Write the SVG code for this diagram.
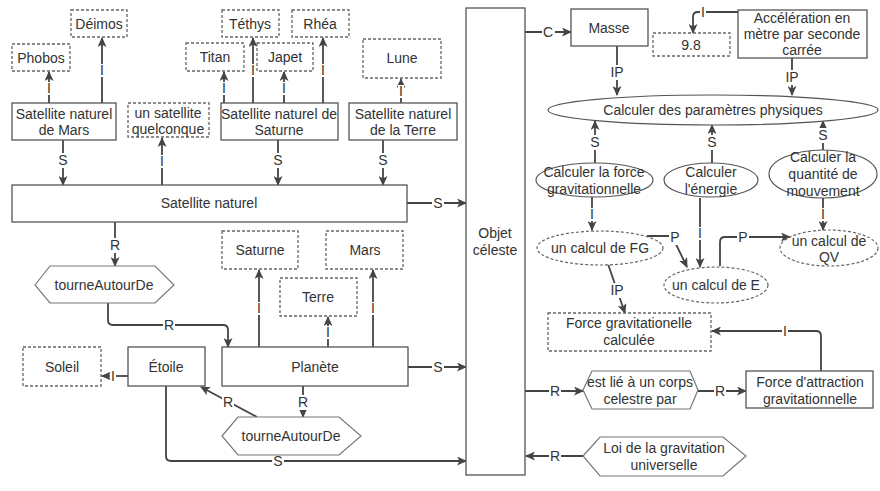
<svg xmlns="http://www.w3.org/2000/svg" width="880" height="491" viewBox="0 0 880 491">
<defs>
<style>
text{font-family:"Liberation Sans",Arial,sans-serif;font-size:14px;fill:#333;text-anchor:middle;dominant-baseline:central}
.box{fill:#fff;stroke:#555;stroke-width:1.3}
.dbox{fill:#fff;stroke:#666;stroke-width:1.3;stroke-dasharray:3,2}
.hex{fill:#fff;stroke:#777;stroke-width:1.2}
.ell{fill:#fff;stroke:#555;stroke-width:1.2}
.dell{fill:#fff;stroke:#666;stroke-width:1.2;stroke-dasharray:3,2}
.c{fill:none;stroke:#444;stroke-width:1.8;marker-end:url(#ah)}
.lb{fill:#fff;stroke:none}
</style>
<marker id="ah" markerUnits="userSpaceOnUse" markerWidth="10" markerHeight="9" refX="9" refY="4.5" orient="auto">
<path d="M0,0 L10,4.5 L0,9 L2.5,4.5 z" fill="#444"/>
</marker>
</defs>
<rect width="880" height="491" fill="#fff"/>

<g id="connectors">
<path class="c" d="M49 103 V72"/><rect class="lb" x="46" y="82" width="6" height="13"/><text x="49" y="88">I</text>
<path class="c" d="M102 103 V38"/><rect class="lb" x="99" y="64" width="6" height="13"/><text x="102" y="70">I</text>
<path class="c" d="M162 185 V138"/><rect class="lb" x="159" y="155" width="6" height="13"/><text x="162" y="161">I</text>
<path class="c" d="M224 103 V72"/><rect class="lb" x="221" y="82" width="6" height="13"/><text x="224" y="88">I</text>
<path class="c" d="M253 103 V38"/><rect class="lb" x="250" y="64" width="6" height="13"/><text x="253" y="70">I</text>
<path class="c" d="M284 103 V72"/><rect class="lb" x="281" y="82" width="6" height="13"/><text x="284" y="88">I</text>
<path class="c" d="M323 103 V38"/><rect class="lb" x="320" y="64" width="6" height="13"/><text x="323" y="70">I</text>
<path class="c" d="M401 103 V79"/><rect class="lb" x="398" y="85" width="6" height="13"/><text x="401" y="91">I</text>
<path class="c" d="M63 140 V185"/><rect class="lb" x="57" y="153" width="12" height="15"/><text x="63" y="160">S</text>
<path class="c" d="M278 140 V185"/><rect class="lb" x="272" y="153" width="12" height="15"/><text x="278" y="160">S</text>
<path class="c" d="M383 140 V185"/><rect class="lb" x="377" y="153" width="12" height="15"/><text x="383" y="160">S</text>
<path class="c" d="M407 203 H466"/><rect class="lb" x="432" y="196" width="12" height="15"/><text x="438" y="203">S</text>
<path class="c" d="M115 222 V266"/><rect class="lb" x="109" y="238" width="12" height="15"/><text x="115" y="245">R</text>
<path class="c" d="M108 303 V320 Q108 325 113 325 H223 Q228 325 228 330 V347"/><rect class="lb" x="163" y="318" width="12" height="15"/><text x="169" y="325">R</text>
<path class="c" d="M259 347 V270"/><rect class="lb" x="256" y="302" width="6" height="13"/><text x="259" y="308">I</text>
<path class="c" d="M328 347 V317"/><rect class="lb" x="325" y="326" width="6" height="13"/><text x="328" y="332">I</text>
<path class="c" d="M373 347 V270"/><rect class="lb" x="370" y="302" width="6" height="13"/><text x="373" y="308">I</text>
<path class="c" d="M408 367 H466"/><rect class="lb" x="432" y="360" width="12" height="15"/><text x="438" y="367">S</text>
<path class="c" d="M128 376 H102"/><rect class="lb" x="110" y="369" width="6" height="14"/><text x="113" y="376">I</text>
<path class="c" d="M303 386 V417"/><rect class="lb" x="297" y="395" width="12" height="15"/><text x="303" y="402">R</text>
<path class="c" d="M257 417 L201 387"/><rect class="lb" x="222" y="395" width="12" height="15"/><text x="228" y="402">R</text>
<path class="c" d="M166 386 V456 Q166 461 171 461 H466"/><rect class="lb" x="272" y="454" width="12" height="15"/><text x="278" y="461">S</text>
<path class="c" d="M525 32 H571"/><rect class="lb" x="542" y="25" width="13" height="15"/><text x="548" y="32">C</text>
<path class="c" d="M738 12 H698 Q693 12 693 17 V33"/><rect class="lb" x="700" y="5" width="6" height="14"/><text x="703" y="12">I</text>
<path class="c" d="M617 46 V95"/><rect class="lb" x="609" y="65" width="16" height="15"/><text x="617" y="72">IP</text>
<path class="c" d="M792 58 V95"/><rect class="lb" x="784" y="70" width="16" height="15"/><text x="792" y="77">IP</text>
<path class="c" d="M595 163 V121"/><rect class="lb" x="589" y="135" width="12" height="15"/><text x="595" y="142">S</text>
<path class="c" d="M712 163 V125"/><rect class="lb" x="706" y="135" width="12" height="15"/><text x="712" y="142">S</text>
<path class="c" d="M823 150 V121"/><rect class="lb" x="817" y="128" width="12" height="15"/><text x="823" y="135">S</text>
<path class="c" d="M592 197 V230"/><rect class="lb" x="589" y="208" width="6" height="13"/><text x="592" y="214">I</text>
<path class="c" d="M700 198 V267"/><rect class="lb" x="697" y="227" width="6" height="13"/><text x="700" y="233">I</text>
<path class="c" d="M823 198 V230"/><rect class="lb" x="820" y="208" width="6" height="13"/><text x="823" y="214">I</text>
<path class="c" d="M647 236 H672 L687 267"/><rect class="lb" x="669" y="230" width="12" height="15"/><text x="675" y="237">P</text>
<path class="c" d="M720 266 V242 Q720 237 725 237 H790"/><rect class="lb" x="737" y="230" width="12" height="15"/><text x="743" y="237">P</text>
<path class="c" d="M608 264 L625 313"/><rect class="lb" x="609" y="283" width="16" height="15"/><text x="617" y="290">IP</text>
<path class="c" d="M821 371 V336 Q821 331 816 331 H712"/><rect class="lb" x="782" y="324" width="6" height="14"/><text x="785" y="331">I</text>
<path class="c" d="M525 391 H583"/><rect class="lb" x="549" y="384" width="12" height="15"/><text x="555" y="391">R</text>
<path class="c" d="M698 391 H746"/><rect class="lb" x="714" y="384" width="12" height="15"/><text x="720" y="391">R</text>
<path class="c" d="M583 456 H526"/><rect class="lb" x="549" y="449" width="12" height="15"/><text x="555" y="456">R</text>
</g>

<g id="objet-celeste"><rect class="box" x="466" y="8" width="59" height="467"/><text x="495" y="233">Objet</text><text x="495" y="250">céleste</text></g>
<g id="masse"><rect class="box" x="571" y="9" width="77" height="37"/><text x="609" y="28">Masse</text></g>
<g id="v98"><rect class="dbox" x="653" y="33" width="77" height="23"/><text x="691" y="45">9.8</text></g>
<g id="acceleration"><rect class="box" x="738" y="10" width="129" height="48"/><text x="802" y="18">Accélération en</text><text x="802" y="34">mètre par seconde</text><text x="802" y="50">carrée</text></g>
<g id="calc-params"><ellipse class="ell" cx="713" cy="110" rx="165" ry="15"/><text x="713" y="110">Calculer des paramètres physiques</text></g>
<g id="calc-force"><ellipse class="ell" cx="594.5" cy="180" rx="58.5" ry="17"/><text x="594" y="172">Calculer la force</text><text x="594" y="189">gravitationnelle</text></g>
<g id="calc-energie"><ellipse class="ell" cx="711" cy="180" rx="47" ry="17"/><text x="711" y="172">Calculer</text><text x="711" y="189">l'énergie</text></g>
<g id="calc-qv"><ellipse class="ell" cx="823" cy="174" rx="54" ry="24"/><text x="823" y="157">Calculer la</text><text x="823" y="174">quantité de</text><text x="823" y="191">mouvement</text></g>
<g id="calcul-fg"><ellipse class="dell" cx="600" cy="248" rx="63" ry="17"/><text x="600" y="248">un calcul de FG</text></g>
<g id="calcul-e"><ellipse class="dell" cx="716" cy="285" rx="52" ry="18"/><text x="716" y="285">un calcul de E</text></g>
<g id="calcul-qv"><ellipse class="dell" cx="829" cy="248" rx="49" ry="18"/><text x="829" y="241">un calcul de</text><text x="829" y="257">QV</text></g>
<g id="force-calc"><rect class="dbox" x="548" y="313" width="163" height="38"/><text x="629" y="323">Force gravitationelle</text><text x="629" y="340">calculée</text></g>
<g id="force-attr"><rect class="box" x="746" y="371" width="127" height="37"/><text x="810" y="382">Force d'attraction</text><text x="810" y="399">gravitationnelle</text></g>
<g id="est-lie"><polygon class="hex" points="583,390 592,371 690,371 698,390 690,409 592,409"/><text x="640" y="382">est lié à un corps</text><text x="640" y="399">celestre par</text></g>
<g id="loi"><polygon class="hex" points="583,456 600,437 723,437 746,456 723,476 600,476"/><text x="664" y="448">Loi de la gravitation</text><text x="664" y="465">universelle</text></g>

<g id="phobos"><rect class="dbox" x="12" y="44" width="58" height="27"/><text x="41" y="58">Phobos</text></g>
<g id="deimos"><rect class="dbox" x="71" y="10" width="56" height="27"/><text x="99" y="24">Déimos</text></g>
<g id="sat-mars"><rect class="box" x="12" y="103" width="104" height="37"/><text x="64" y="114">Satellite naturel</text><text x="64" y="130">de Mars</text></g>
<g id="quelconque"><rect class="dbox" x="128" y="103" width="81" height="34"/><text x="168" y="113">un satellite</text><text x="168" y="129">quelconque</text></g>
<g id="sat-saturne"><rect class="box" x="221" y="103" width="117" height="37"/><text x="279" y="114">Satellite naturel de</text><text x="279" y="130">Saturne</text></g>
<g id="titan"><rect class="dbox" x="186" y="43" width="58" height="28"/><text x="215" y="57">Titan</text></g>
<g id="tethys"><rect class="dbox" x="222" y="10" width="57" height="27"/><text x="250" y="24">Téthys</text></g>
<g id="japet"><rect class="dbox" x="257" y="43" width="56" height="28"/><text x="285" y="57">Japet</text></g>
<g id="rhea"><rect class="dbox" x="292" y="10" width="57" height="27"/><text x="320" y="24">Rhéa</text></g>
<g id="lune"><rect class="dbox" x="363" y="39" width="78" height="39"/><text x="402" y="58">Lune</text></g>
<g id="sat-terre"><rect class="box" x="349" y="103" width="108" height="37"/><text x="403" y="114">Satellite naturel</text><text x="403" y="130">de la Terre</text></g>
<g id="sat-naturel"><rect class="box" x="12" y="185" width="395" height="37"/><text x="209" y="203">Satellite naturel</text></g>
<g id="hex1"><polygon class="hex" points="35,285 50,266 155,266 174,285 155,303 50,303"/><text x="104" y="285">tourneAutourDe</text></g>
<g id="saturne"><rect class="dbox" x="222" y="231" width="76" height="38"/><text x="260" y="250">Saturne</text></g>
<g id="mars"><rect class="dbox" x="326" y="231" width="77" height="38"/><text x="365" y="250">Mars</text></g>
<g id="terre"><rect class="dbox" x="280" y="278" width="77" height="38"/><text x="318" y="297">Terre</text></g>
<g id="planete"><rect class="box" x="222" y="347" width="186" height="39"/><text x="315" y="367">Planète</text></g>
<g id="etoile"><rect class="box" x="128" y="347" width="77" height="39"/><text x="166" y="367">Étoile</text></g>
<g id="soleil"><rect class="dbox" x="23" y="347" width="78" height="39"/><text x="62" y="367">Soleil</text></g>
<g id="hex2"><polygon class="hex" points="222,436 238,417 339,417 361,436 339,455 238,455"/><text x="291" y="436">tourneAutourDe</text></g>
</svg>
